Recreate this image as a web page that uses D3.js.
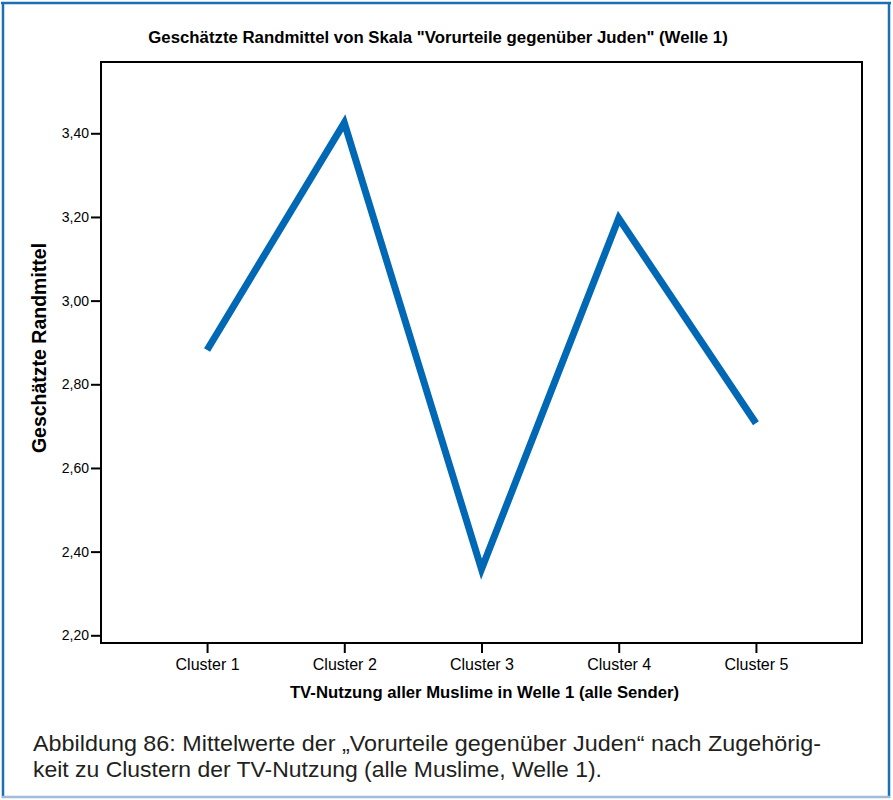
<!DOCTYPE html>
<html>
<head>
<meta charset="utf-8">
<script src="https://cdn.jsdelivr.net/npm/d3@7"></script>
<style>
  html, body { margin: 0; padding: 0; background: #fff; }
  svg { display: block; }
</style>
</head>
<body>
<script>
// ---- data ----
const categories = ["Cluster 1", "Cluster 2", "Cluster 3", "Cluster 4", "Cluster 5"];
const values = [2.882, 3.425, 2.358, 3.197, 2.707];
const yTickValues = [2.2, 2.4, 2.6, 2.8, 3.0, 3.2, 3.4];
const yTickLabels = ["2,20", "2,40", "2,60", "2,80", "3,00", "3,20", "3,40"];
const chartTitle = "Geschätzte Randmittel von Skala \"Vorurteile gegenüber Juden\" (Welle 1)";
const xTitle = "TV-Nutzung aller Muslime in Welle 1 (alle Sender)";
const yTitle = "Geschätzte Randmittel";
const captionLines = [
  "Abbildung 86: Mittelwerte der „Vorurteile gegenüber Juden“ nach Zugehörig-",
  "keit zu Clustern der TV-Nutzung (alle Muslime, Welle 1)."
];

// ---- layout ----
const W = 893, H = 800;
const plot = { left: 101, right: 862, top: 62, bottom: 643 };
const lineColor = "#0068b4";
const font = "'Liberation Sans', Arial, sans-serif";

const svg = d3.select("body").append("svg").attr("width", W).attr("height", H);
svg.append("rect").attr("width", W).attr("height", H).attr("fill", "#fff");

// outer frame
svg.append("line").attr("x1", 1).attr("x2", 891).attr("y1", 3).attr("y2", 3)
  .attr("stroke", "#1a6fb5").attr("stroke-width", 2.5);
svg.append("line").attr("x1", 3).attr("x2", 3).attr("y1", 2).attr("y2", 798)
  .attr("stroke", "#1a6fb5").attr("stroke-width", 2.5);
svg.append("line").attr("x1", 889).attr("x2", 889).attr("y1", 2).attr("y2", 798)
  .attr("stroke", "#1a6fb5").attr("stroke-width", 2.5);
svg.append("line").attr("x1", 2).attr("x2", 890).attr("y1", 797).attr("y2", 797)
  .attr("stroke", "#9fbdd6").attr("stroke-width", 2.5);

// scales
const x = d3.scalePoint().domain(categories).range([plot.left, plot.right]).padding(0.773);
const y = d3.scaleLinear().domain([2.1816, 3.5704]).range([plot.bottom, plot.top]);

// plot frame
svg.append("rect")
  .attr("x", plot.left).attr("y", plot.top)
  .attr("width", plot.right - plot.left).attr("height", plot.bottom - plot.top)
  .attr("fill", "none").attr("stroke", "#000").attr("stroke-width", 2);

// y axis
const yAxis = d3.axisLeft(y)
  .tickValues(yTickValues)
  .tickFormat((d, i) => yTickLabels[i])
  .tickSizeOuter(0).tickSizeInner(10).tickPadding(2);
const gy = svg.append("g").attr("transform", `translate(${plot.left},0)`).call(yAxis);
gy.select(".domain").remove();
gy.selectAll(".tick line").attr("stroke", "#000").attr("stroke-width", 2);
gy.selectAll(".tick text").attr("font-family", font).attr("font-size", 14).attr("fill", "#000");

// x axis
const xAxis = d3.axisBottom(x).tickSizeOuter(0).tickSizeInner(10).tickPadding(6);
const gx = svg.append("g").attr("transform", `translate(0,${plot.bottom})`).call(xAxis);
gx.select(".domain").remove();
gx.selectAll(".tick line").attr("stroke", "#000").attr("stroke-width", 2);
gx.selectAll(".tick text").attr("font-family", font).attr("font-size", 16).attr("fill", "#000");

// line
const line = d3.line().x((d, i) => x(categories[i])).y(d => y(d));
svg.append("path").datum(values)
  .attr("d", line)
  .attr("fill", "none")
  .attr("stroke", lineColor)
  .attr("stroke-width", 7)
  .attr("stroke-linejoin", "miter")
  .attr("stroke-miterlimit", 10)
  .attr("stroke-linecap", "butt");

// titles
svg.append("text").attr("x", 438).attr("y", 43).attr("text-anchor", "middle")
  .attr("font-family", font).attr("font-weight", "bold").attr("font-size", 16.8)
  .attr("fill", "#000").text(chartTitle);

svg.append("text").attr("x", 484.5).attr("y", 698).attr("text-anchor", "middle")
  .attr("font-family", font).attr("font-weight", "bold").attr("font-size", 16.7)
  .attr("fill", "#000").text(xTitle);

svg.append("text").attr("transform", `translate(46,348) rotate(-90)`).attr("text-anchor", "middle")
  .attr("font-family", font).attr("font-weight", "bold").attr("font-size", 19.5)
  .attr("fill", "#000").text(yTitle);

// caption
const capWidths = [788, 569];
const capBaselines = [751, 777];
captionLines.forEach((t, i) => {
  svg.append("text").attr("x", 33).attr("y", capBaselines[i])
    .attr("font-family", font)
    .attr("font-size", 22).attr("fill", "#231f20")
    .attr("textLength", capWidths[i]).attr("lengthAdjust", "spacingAndGlyphs")
    .text(t);
});
</script>
</body>
</html>
